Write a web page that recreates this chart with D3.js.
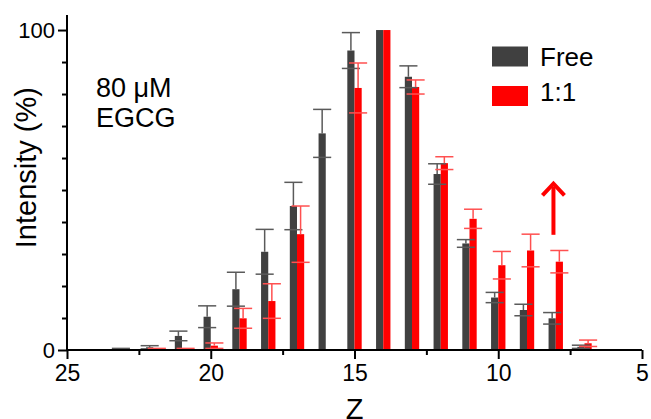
<!DOCTYPE html>
<html>
<head>
<meta charset="utf-8">
<script src="https://cdn.jsdelivr.net/npm/d3@7"></script>
<style>
  body { margin: 0; background: #fff; }
  text { font-family: "Liberation Sans", Arial, sans-serif; fill: #000; }
</style>
</head>
<body>
<div id="chart"></div>
<script>

// charge states and relative intensities
var zValues   = [23, 22, 21, 20, 19, 18, 17, 16, 15, 14, 13, 12, 11, 10, 9, 8, 7];
var freeVals  = [0.2, 0.85, 4.4, 10.4, 19, 30.7, 45, 67.7, 93.6, 100, 85.4, 55, 33.3, 16.4, 12.5, 9.9, 1];
var freeErr   = [0.3, 0.5, 1.5, 3.4, 5.3, 7, 7.4, 7.5, 5.6, 0, 3.4, 3.2, 1.2, 1.6, 1.8, 1.8, 0.5];
var mixVals   = [null, 0.2, 0.2, 1.35, 9.9, 15.3, 36.2, null, 81.9, 100, 82.2, 58.4, 41, 26.5, 31.1, 27.6, 2.1];
var mixErr    = [null, 0.3, 0.3, 0.85, 3.1, 5.4, 8.8, null, 7.8, 0, 2.2, 2, 3, 4.3, 5.1, 3.5, 1];
var seriesNames = ['Free', '1:1'];
var xTicks      = [25, 20, 15, 10, 5];
var xMinorTicks = [22.5, 17.5, 12.5, 7.5];
var yTicks      = [0, 100];
var yMinorTicks = [10, 20, 30, 40, 50, 60, 70, 80, 90];

var width = 651, height = 419;
var margin = {top: 15, right: 9, bottom: 69, left: 67};

var svg = d3.select("#chart")
  .append("svg")
    .attr("width", width)
    .attr("height", height);

var x = d3.scaleLinear()
  .domain([25, 5])
  .range([margin.left, width - margin.right]);

var y = d3.scaleLinear()
  .domain([0, 104.7])
  .range([height - margin.bottom, margin.top]);

var colors = {free: "#404040", mix: "#ff0000"};
var errColors = {free: "#5a5a5a", mix: "#ff5050"};
var barW = 0.25;   // bar width in z units
var capW = 0.63;   // error cap width in z units

function rows(vals, errs, side) {
  return zValues.map(function(z, i) {
    return {z: z, v: vals[i], e: errs[i], side: side};
  }).filter(function(d) { return d.v !== null; });
}
var freeData = rows(freeVals, freeErr, -1);
var mixData  = rows(mixVals, mixErr, 1);

function barLeft(d) { return d.side < 0 ? x(d.z + barW) : x(d.z); }
function barMid(d) { return d.side < 0 ? x(d.z + barW / 2) : x(d.z - barW / 2); }

function drawSeries(data, key) {
  var g = svg.append("g");
  g.selectAll("rect")
    .data(data)
    .enter()
    .append("rect")
      .attr("x", barLeft)
      .attr("y", function(d) { return y(d.v); })
      .attr("width", x(25) - x(25 + barW))
      .attr("height", function(d) { return y(0) - y(d.v); })
      .attr("fill", colors[key]);
}

function drawErrors(data, key) {
  var eb = svg.append("g")
    .attr("stroke", errColors[key])
    .attr("stroke-width", 1.5)
    .selectAll("g")
    .data(data.filter(function(d) { return d.e > 0; }))
    .enter()
    .append("g");
  var half = (x(25) - x(25 + capW)) / 2;
  eb.append("line")
    .attr("x1", barMid).attr("x2", barMid)
    .attr("y1", function(d) { return y(d.v); })
    .attr("y2", function(d) { return y(d.v + d.e); });
  eb.append("line")
    .attr("x1", function(d) { return barMid(d) - half; })
    .attr("x2", function(d) { return barMid(d) + half; })
    .attr("y1", function(d) { return y(d.v + d.e); })
    .attr("y2", function(d) { return y(d.v + d.e); });
  eb.append("line")
    .attr("x1", function(d) { return barMid(d) - half; })
    .attr("x2", function(d) { return barMid(d) + half; })
    .attr("y1", function(d) { return y(Math.max(d.v - d.e, 0)); })
    .attr("y2", function(d) { return y(Math.max(d.v - d.e, 0)); });
}

drawSeries(freeData, "free");
drawSeries(mixData, "mix");
drawErrors(freeData, "free");
drawErrors(mixData, "mix");

// axes
var xAxis = svg.append("g")
  .attr("transform", "translate(0," + y(0) + ")")
  .call(d3.axisBottom(x).tickValues(xTicks).tickFormat(d3.format("d")).tickSize(9).tickPadding(6));
svg.append("g")
  .attr("transform", "translate(0," + y(0) + ")")
  .call(d3.axisBottom(x).tickValues(xMinorTicks).tickFormat("").tickSize(5))
  .select(".domain").remove();
xAxis.selectAll("text").style("font-size", "23px");

var yAxis = svg.append("g")
  .attr("transform", "translate(" + x(25) + ",0)")
  .call(d3.axisLeft(y).tickValues(yTicks).tickSize(9).tickPadding(3));
svg.append("g")
  .attr("transform", "translate(" + x(25) + ",0)")
  .call(d3.axisLeft(y).tickValues(yMinorTicks).tickFormat("").tickSize(5))
  .select(".domain").remove();
yAxis.selectAll("text").style("font-size", "22px");

svg.selectAll(".domain, .tick line")
  .attr("stroke", "#000")
  .attr("stroke-width", 2);
// plain axis lines without end ticks
xAxis.select(".domain").attr("d", "M" + x(25) + ",0H" + x(5));
yAxis.select(".domain").attr("d", "M0," + y(0) + "V" + y(104.7));

svg.append("text")
  .attr("x", (x(25) + x(5)) / 2)
  .attr("y", 419)
  .attr("text-anchor", "middle")
  .style("font-size", "29px")
  .text("Z");

svg.append("text")
  .attr("transform", "translate(36," + y(57) + ") rotate(-90)")
  .attr("text-anchor", "middle")
  .style("font-size", "29px")
  .text("Intensity (%)");

// sample note
svg.append("text").attr("x", 96).attr("y", 97).style("font-size", "27px").text("80 \u03BCM");
svg.append("text").attr("x", 96).attr("y", 127).style("font-size", "27px").text("EGCG");

// legend
var legend = svg.append("g");
var legendColors = [colors.free, colors.mix];
seriesNames.forEach(function(name, i) {
  legend.append("rect")
    .attr("x", 492).attr("y", 46.5 + i * 39.5)
    .attr("width", 36).attr("height", 20)
    .attr("fill", legendColors[i]);
  legend.append("text")
    .attr("x", 540).attr("y", 66 + i * 35)
    .style("font-size", "26px")
    .text(name);
});

// up arrow over z = 8
var ax = x(8.08);
svg.append("line")
  .attr("x1", ax).attr("x2", ax)
  .attr("y1", y(36)).attr("y2", y(51))
  .attr("stroke", "#ff0000").attr("stroke-width", 4);
svg.append("path")
  .attr("d", "M" + (ax - 11) + "," + y(48.3) + "L" + ax + "," + y(52) + "L" + (ax + 11) + "," + y(48.3))
  .attr("fill", "none")
  .attr("stroke", "#ff0000")
  .attr("stroke-width", 4)
  .attr("stroke-linejoin", "miter");

</script>
</body>
</html>
